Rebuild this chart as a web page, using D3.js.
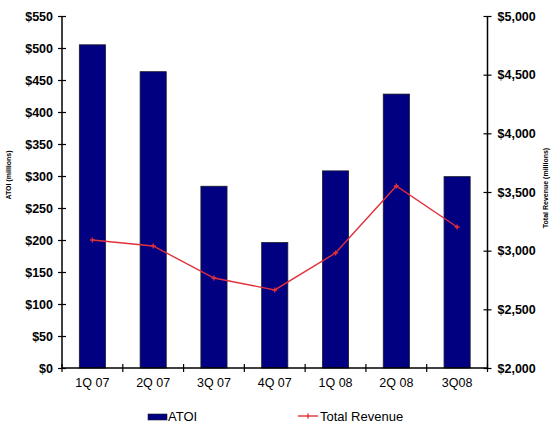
<!DOCTYPE html>
<html>
<head>
<meta charset="utf-8">
<script src="https://cdn.jsdelivr.net/npm/d3@7/dist/d3.min.js"></script>
<style>
  html, body { margin: 0; padding: 0; background: #fff; }
  svg { display: block; font-family: "Liberation Sans", Arial, sans-serif; }
</style>
</head>
<body>
<svg id="chart" width="554" height="426"></svg>
<script>
// Quarterly ATOI (bars, left axis) and total revenue (line, right axis), $ millions
const quarters = ["1Q 07", "2Q 07", "3Q 07", "4Q 07", "1Q 08", "2Q 08", "3Q08"];
const atoi = [505, 463, 284, 196, 308, 428, 299];
const totalRevenue = [3091, 3040, 2767, 2665, 2980, 3551, 3202];
const leftTicks = [0, 50, 100, 150, 200, 250, 300, 350, 400, 450, 500, 550];
const rightTicks = [2000, 2500, 3000, 3500, 4000, 4500, 5000];

const svg = d3.select("#chart");
const plot = { left: 62, right: 487.5, top: 16, bottom: 368 };

const x = d3.scaleBand()
  .domain(quarters)
  .range([plot.left, plot.right])
  .paddingInner(0.57)
  .paddingOuter(0.285);
const step = x.step();

const yLeft = d3.scaleLinear().domain([0, 550]).range([plot.bottom, plot.top]);
const yRight = d3.scaleLinear().domain([2000, 5000]).range([plot.bottom, plot.top]);

// Bars
svg.append("g").selectAll("rect")
  .data(atoi)
  .join("rect")
  .attr("x", (d, i) => x(quarters[i]))
  .attr("y", d => yLeft(d))
  .attr("width", x.bandwidth())
  .attr("height", d => yLeft(0) - yLeft(d))
  .attr("fill", "#000080")
  .attr("stroke", "#1a1a2a")
  .attr("stroke-width", 0.8);

// Revenue line
const line = d3.line()
  .x((d, i) => x(quarters[i]) + x.bandwidth() / 2)
  .y(d => yRight(d));

svg.append("path")
  .datum(totalRevenue)
  .attr("d", line)
  .attr("fill", "none")
  .attr("stroke", "#e0303a")
  .attr("stroke-width", 1.4);

svg.append("g").selectAll("path")
  .data(totalRevenue)
  .join("path")
  .attr("transform", (d, i) => `translate(${x(quarters[i]) + x.bandwidth() / 2},${yRight(d)})`)
  .attr("d", "M-2.5,0H2.5M0,-2.5V2.5")
  .attr("stroke", "#e0303a")
  .attr("stroke-width", 1.4);

// Axes
const axisColor = "#000";
const leftAxis = d3.axisLeft(yLeft).tickValues(leftTicks)
  .tickFormat(d => "$" + d).tickSize(0).tickPadding(9);
const gl = svg.append("g").attr("transform", `translate(${plot.left},0)`).call(leftAxis);

const rightAxis = d3.axisRight(yRight).tickValues(rightTicks)
  .tickFormat(d => "$" + d3.format(",")(d)).tickSize(0).tickPadding(10);
const gr = svg.append("g").attr("transform", `translate(${plot.right},0)`).call(rightAxis);

[gl, gr].forEach(g => {
  g.select(".domain").remove();
  g.selectAll("text")
    .attr("font-size", 12.5)
    .attr("font-weight", "bold")
    .attr("fill", "#000")
    .attr("font-family", "Liberation Sans, Arial, sans-serif");
  g.selectAll(".tick").append("line")
    .attr("x1", -4).attr("x2", 4)
    .attr("stroke", axisColor).attr("stroke-width", 1.2);
});

const bottomAxis = d3.axisBottom(x).tickSize(0).tickPadding(10);
const gb = svg.append("g").attr("transform", `translate(0,${plot.bottom})`).call(bottomAxis);
gb.select(".domain").remove();
gb.selectAll("text")
  .attr("font-size", 12.5)
  .attr("fill", "#000")
  .attr("font-family", "Liberation Sans, Arial, sans-serif");

// Category separators on the bottom axis
const bounds = d3.range(quarters.length + 1).map(i => plot.left + i * step);
svg.append("g").selectAll("line")
  .data(bounds)
  .join("line")
  .attr("x1", d => d).attr("x2", d => d)
  .attr("y1", plot.bottom - 4).attr("y2", plot.bottom + 4)
  .attr("stroke", axisColor).attr("stroke-width", 1.2);

// Axis lines
svg.append("line").attr("x1", plot.left).attr("x2", plot.left)
  .attr("y1", plot.top).attr("y2", plot.bottom)
  .attr("stroke", axisColor).attr("stroke-width", 1.5);
svg.append("line").attr("x1", plot.right).attr("x2", plot.right)
  .attr("y1", plot.top).attr("y2", plot.bottom)
  .attr("stroke", axisColor).attr("stroke-width", 1.5);
svg.append("line").attr("x1", plot.left).attr("x2", plot.right)
  .attr("y1", plot.bottom).attr("y2", plot.bottom)
  .attr("stroke", axisColor).attr("stroke-width", 1.5);

// Axis titles
svg.append("text")
  .attr("transform", "translate(11,175) rotate(-90)")
  .attr("text-anchor", "middle")
  .attr("font-size", 7).attr("font-weight", "bold")
  .text("ATOI (millions)");
svg.append("text")
  .attr("transform", "translate(548,188) rotate(-90)")
  .attr("text-anchor", "middle")
  .attr("font-size", 7).attr("font-weight", "bold")
  .text("Total Revenue (millions)");

// Legend
const legend = svg.append("g").attr("font-size", 13).attr("fill", "#000");
legend.append("rect")
  .attr("x", 148).attr("y", 414).attr("width", 19).attr("height", 6)
  .attr("fill", "#000080").attr("stroke", "#1a1a2a").attr("stroke-width", 0.6);
legend.append("text").attr("x", 168).attr("y", 421).text("ATOI");
legend.append("line")
  .attr("x1", 298).attr("x2", 318).attr("y1", 416).attr("y2", 416)
  .attr("stroke", "#e0303a").attr("stroke-width", 1.4);
legend.append("path")
  .attr("d", "M308,413.5V418.5")
  .attr("stroke", "#e0303a").attr("stroke-width", 1.4);
legend.append("text").attr("x", 320).attr("y", 421).text("Total Revenue");
</script>
</body>
</html>
